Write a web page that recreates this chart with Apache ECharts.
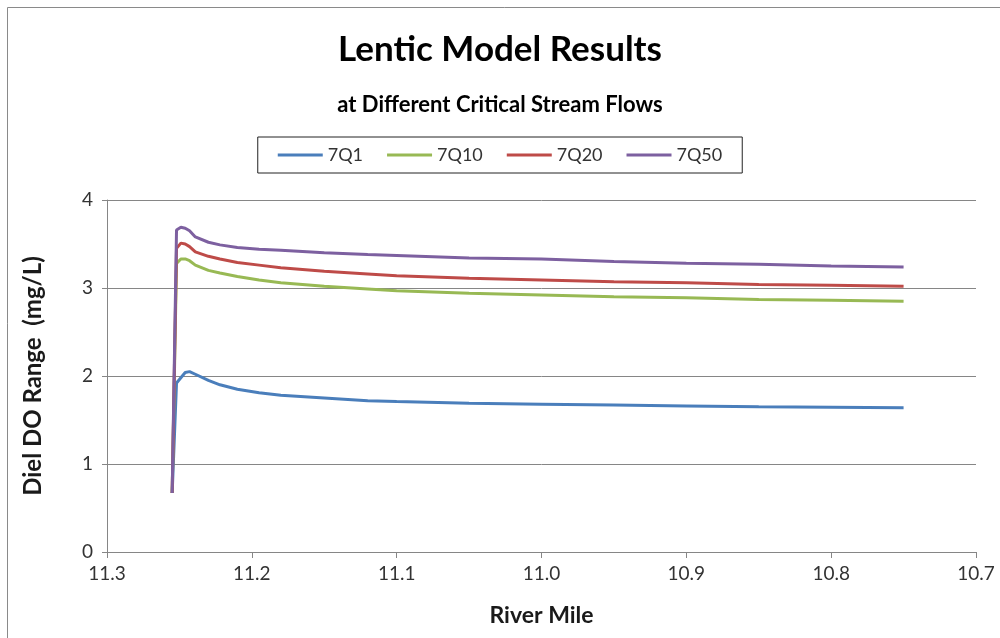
<!DOCTYPE html>
<html><head><meta charset="utf-8">
<script src="https://cdn.jsdelivr.net/npm/echarts@6/dist/echarts.min.js"></script>
<style>html,body{margin:0;padding:0;background:#fff}#c{width:1000px;height:638px}</style>
</head><body><div id="c"></div>
<script>
const miles = [11.255, 11.252, 11.249, 11.246, 11.243, 11.239, 11.230, 11.222, 11.210, 11.195, 11.180, 11.150, 11.120, 11.100, 11.050, 11.000, 10.950, 10.900, 10.850, 10.800, 10.750];
const q1  = [0.67, 1.92, 1.98, 2.04, 2.05, 2.02, 1.95, 1.90, 1.85, 1.81, 1.78, 1.75, 1.72, 1.71, 1.69, 1.68, 1.67, 1.66, 1.65, 1.645, 1.64];
const q10 = [0.67, 3.28, 3.33, 3.33, 3.31, 3.26, 3.20, 3.17, 3.13, 3.09, 3.06, 3.02, 2.99, 2.97, 2.94, 2.92, 2.90, 2.89, 2.87, 2.86, 2.85];
const q20 = [0.67, 3.45, 3.51, 3.50, 3.47, 3.41, 3.36, 3.33, 3.29, 3.26, 3.23, 3.19, 3.16, 3.14, 3.11, 3.09, 3.07, 3.06, 3.04, 3.03, 3.02];
const q50 = [0.67, 3.66, 3.69, 3.68, 3.65, 3.58, 3.52, 3.49, 3.46, 3.44, 3.43, 3.40, 3.38, 3.37, 3.34, 3.33, 3.30, 3.28, 3.27, 3.25, 3.24];
const seriesNames = ['7Q1', '7Q10', '7Q20', '7Q50'];
const seriesVals = [q1, q10, q20, q50];
const colors = ['#4A7EBB', '#98B954', '#BE4B48', '#7D60A0'];

const font = 'Lato, "Open Sans", sans-serif';
const chart = echarts.init(document.getElementById('c'));
chart.setOption({
  animation: false,
  graphic: [{type:'rect', shape:{x:7.5, y:7.5, width:1100, height:1000}, style:{fill:'none', stroke:'#8a8a8a', lineWidth:1}, silent:true}],
  title: [
    {text:'Lentic Model Results', left:'center', top:27, textStyle:{fontFamily:font, fontSize:35, fontWeight:'bold', color:'#000'}},
    {text:'at Different Critical Stream Flows', left:'center', top:89, textStyle:{fontFamily:font, fontSize:22, fontWeight:'bold', color:'#000'}}
  ],
  legend: {
    data: seriesNames, top:137, left:'center',
    borderColor:'#222', borderWidth:1, padding:[9,20,9,20],
    itemWidth:45, itemHeight:3, itemGap:24, icon:'rect',
    textStyle:{fontFamily:font, fontSize:18, color:'#333'}
  },
  grid: {left:107, right:24, top:200, bottom:86, containLabel:false},
  xAxis: {
    type:'value', inverse:true, min:10.7, max:11.3, interval:0.1,
    name:'River Mile', nameLocation:'middle', nameGap:52,
    nameTextStyle:{fontFamily:font, fontSize:23, fontWeight:'bold', color:'#1a1a1a'},
    axisLine:{show:true, lineStyle:{color:'#868686'}},
    axisTick:{show:true, length:6, lineStyle:{color:'#868686'}},
    axisLabel:{fontFamily:font, fontSize:19, color:'#333', margin:12, formatter:v=>v.toFixed(1)},
    splitLine:{show:false}
  },
  yAxis: {
    type:'value', min:0, max:4, interval:1,
    name:'Diel DO Range  (mg/L)', nameLocation:'middle', nameGap:62, nameRotate:90,
    nameTextStyle:{fontFamily:font, fontSize:24, fontWeight:'bold', color:'#1a1a1a'},
    axisLine:{show:true, lineStyle:{color:'#868686'}},
    axisTick:{show:true, length:5, lineStyle:{color:'#868686'}},
    axisLabel:{fontFamily:font, fontSize:19, color:'#333', margin:14},
    splitLine:{show:true, lineStyle:{color:'#868686', width:1}}
  },
  series: seriesNames.map((n,i)=>({
    name:n, type:'line', showSymbol:false, symbol:'none',
    data: miles.map((m,j)=>[m, seriesVals[i][j]]),
    lineStyle:{color:colors[i], width:3},
    itemStyle:{color:colors[i]},
    z: 2+i
  }))
});
</script></body></html>
